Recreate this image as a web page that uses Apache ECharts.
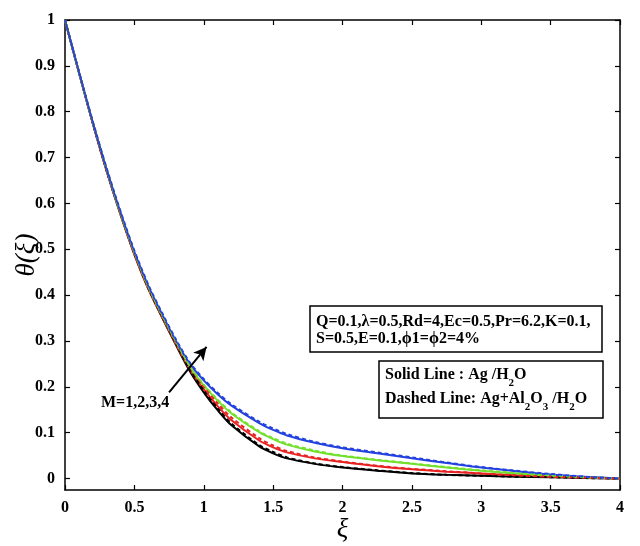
<!DOCTYPE html>
<html>
<head>
<meta charset="utf-8">
<script src="https://cdn.jsdelivr.net/npm/echarts@6/dist/echarts.min.js"></script>
<style>
  html, body { margin: 0; padding: 0; background: #fff; }
  #chart { width: 640px; height: 546px; }
</style>
</head>
<body>
<div id="chart"></div>
<script>
// xi grid and theta(xi) profiles, M = 1..4
const xi = [0, 0.1, 0.2, 0.3, 0.4, 0.5, 0.6, 0.7, 0.8, 0.9, 1.0, 1.1, 1.2, 1.4, 1.5, 1.6, 1.8, 2.0, 2.25, 2.5, 2.75, 3.0, 3.25, 3.5, 3.75, 4.0];

// solid: Ag/H2O
const agM1 = [1, 0.886, 0.775, 0.671, 0.576, 0.489, 0.414, 0.351, 0.291, 0.234, 0.188, 0.149, 0.116, 0.070, 0.055, 0.044, 0.032, 0.024, 0.017, 0.011, 0.008, 0.006, 0.004, 0.003, 0.001, 0];
const agM2 = [1, 0.886, 0.775, 0.671, 0.576, 0.489, 0.414, 0.352, 0.293, 0.238, 0.195, 0.158, 0.127, 0.083, 0.068, 0.057, 0.044, 0.036, 0.027, 0.020, 0.015, 0.011, 0.007, 0.004, 0.002, 0];
const agM3 = [1, 0.886, 0.776, 0.673, 0.578, 0.492, 0.417, 0.355, 0.297, 0.243, 0.203, 0.170, 0.142, 0.101, 0.086, 0.074, 0.059, 0.049, 0.040, 0.032, 0.024, 0.017, 0.011, 0.006, 0.003, 0];
const agM4 = [1, 0.887, 0.777, 0.674, 0.580, 0.494, 0.420, 0.358, 0.300, 0.250, 0.214, 0.184, 0.159, 0.121, 0.106, 0.094, 0.078, 0.066, 0.055, 0.044, 0.034, 0.024, 0.016, 0.009, 0.004, 0];

// dashed: Ag+Al2O3/H2O
const hybM1 = [1, 0.887, 0.776, 0.672, 0.578, 0.491, 0.416, 0.354, 0.295, 0.238, 0.192, 0.153, 0.120, 0.073, 0.058, 0.046, 0.033, 0.025, 0.018, 0.012, 0.008, 0.006, 0.004, 0.003, 0.001, 0];
const hybM2 = [1, 0.887, 0.776, 0.673, 0.579, 0.492, 0.418, 0.356, 0.298, 0.244, 0.201, 0.164, 0.133, 0.088, 0.072, 0.060, 0.046, 0.037, 0.028, 0.021, 0.016, 0.011, 0.007, 0.004, 0.002, 0];
const hybM3 = [1, 0.887, 0.778, 0.675, 0.580, 0.494, 0.419, 0.357, 0.299, 0.245, 0.205, 0.172, 0.144, 0.103, 0.088, 0.076, 0.061, 0.050, 0.041, 0.033, 0.025, 0.018, 0.012, 0.007, 0.003, 0];
const hybM4 = [1, 0.888, 0.779, 0.677, 0.583, 0.497, 0.423, 0.361, 0.303, 0.253, 0.217, 0.187, 0.162, 0.124, 0.109, 0.097, 0.080, 0.068, 0.057, 0.046, 0.035, 0.025, 0.017, 0.010, 0.004, 0];

const xTicks = [0, 0.5, 1, 1.5, 2, 2.5, 3, 3.5, 4];
const yTicks = [0, 0.1, 0.2, 0.3, 0.4, 0.5, 0.6, 0.7, 0.8, 0.9, 1];

// arrow for increasing M, in data coords
const arrowFrom = [0.75, 0.188];
const arrowTo = [1.02, 0.287];

const colors = ["#000000", "#e82222", "#72e02c", "#2342de"];
const SERIF = '"Liberation Serif", "DejaVu Serif", serif';

const chart = echarts.init(document.getElementById("chart"));

const pairs = (ys) => xi.map((x, i) => [x, ys[i]]);

function lineSeries(name, ys, color, dashed) {
  return {
    name: name,
    type: "line",
    data: pairs(ys),
    showSymbol: false,
    smooth: 0.3,
    z: dashed ? 3 : 2,
    lineStyle: {
      color: color,
      width: 2,
      type: dashed ? [4, 3] : "solid"
    }
  };
}

const solid = [agM1, agM2, agM3, agM4];
const dashed = [hybM1, hybM2, hybM3, hybM4];

const series = [];
solid.forEach((ys, i) => series.push(lineSeries("Ag M=" + (i + 1), ys, colors[i], false)));
dashed.forEach((ys, i) => series.push(lineSeries("Hyb M=" + (i + 1), ys, colors[i], true)));

// arrow
series.push({
  type: "line",
  data: [],
  markLine: {
    silent: true,
    animation: false,
    symbol: ["none", "arrow"],
    symbolSize: [10, 13],
    label: { show: false },
    lineStyle: { color: "#000", width: 2, type: "solid" },
    data: [[{ coord: arrowFrom }, { coord: arrowTo }]]
  }
});

const axisText = { color: "#000", fontFamily: SERIF, fontWeight: "bold", fontSize: 16 };
const axisLine = { show: true, onZero: false, lineStyle: { color: "#000", width: 1.5 } };
const tickStyle = { color: "#000", width: 1.2 };

chart.setOption({
  animation: false,
  grid: { left: 65, right: 20, top: 20, bottom: 56, outerBoundsMode: "none", containLabel: false },
  xAxis: [
    {
      type: "value", min: 0, max: 4, interval: 0.5,
      name: "ξ", nameLocation: "middle", nameGap: 26, nameMoveOverlap: false,
      nameTextStyle: { color: "#000", fontFamily: SERIF, fontStyle: "italic", fontSize: 27 },
      axisLine: axisLine,
      axisTick: { inside: true, length: 5, customValues: xTicks, lineStyle: tickStyle },
      axisLabel: Object.assign({ margin: 10, customValues: xTicks, formatter: (v) => String(v) }, axisText),
      splitLine: { show: false }
    },
    {
      type: "value", min: 0, max: 4, interval: 0.5, position: "top",
      axisLine: axisLine,
      axisTick: { inside: true, length: 5, customValues: xTicks, lineStyle: tickStyle },
      axisLabel: { show: false },
      splitLine: { show: false }
    }
  ],
  yAxis: [
    {
      type: "value", min: -0.025, max: 1,
      name: "θ(ξ)", nameLocation: "middle", nameRotate: 90, nameGap: 25, nameMoveOverlap: false,
      nameTextStyle: { color: "#000", fontFamily: SERIF, fontStyle: "italic", fontSize: 27 },
      axisLine: axisLine,
      axisTick: { inside: true, length: 5, customValues: yTicks, lineStyle: tickStyle },
      axisLabel: Object.assign({ margin: 10, customValues: yTicks, formatter: (v) => String(v) }, axisText),
      splitLine: { show: false }
    },
    {
      type: "value", min: -0.025, max: 1, position: "right",
      axisLine: axisLine,
      axisTick: { inside: true, length: 5, customValues: yTicks, lineStyle: tickStyle },
      axisLabel: { show: false },
      splitLine: { show: false }
    }
  ],
  series: series,
  graphic: [
    {
      type: "rect", z: 10,
      shape: { x: 310, y: 306, width: 292, height: 46 },
      style: { fill: "#fff", stroke: "#000", lineWidth: 1.5 }
    },
    {
      type: "text", z: 11, x: 316, y: 313,
      style: {
        text: "Q=0.1,λ=0.5,Rd=4,Ec=0.5,Pr=6.2,K=0.1,\nS=0.5,E=0.1,ϕ1=ϕ2=4%",
        font: "bold 16px " + SERIF, lineHeight: 17, fill: "#000"
      }
    },
    {
      type: "rect", z: 10,
      shape: { x: 379, y: 361, width: 224, height: 57 },
      style: { fill: "#fff", stroke: "#000", lineWidth: 1.5 }
    },
    {
      type: "text", z: 11, x: 385, y: 363,
      style: {
        text: "Solid Line : Ag /H{sub|2}O\nDashed Line: Ag+Al{sub|2}O{sub|3} /H{sub|2}O",
        font: "bold 16px " + SERIF, lineHeight: 24, fill: "#000",
        rich: {
          sub: { font: "bold 11px " + SERIF, fill: "#000", lineHeight: 4, padding: [16, 0, 0, 0] }
        }
      }
    },
    {
      type: "text", z: 11, x: 101, y: 403,
      style: {
        text: "M=1,2,3,4", font: "bold 16px " + SERIF, fill: "#000", verticalAlign: "middle"
      }
    }
  ]
});
</script>
</body>
</html>
